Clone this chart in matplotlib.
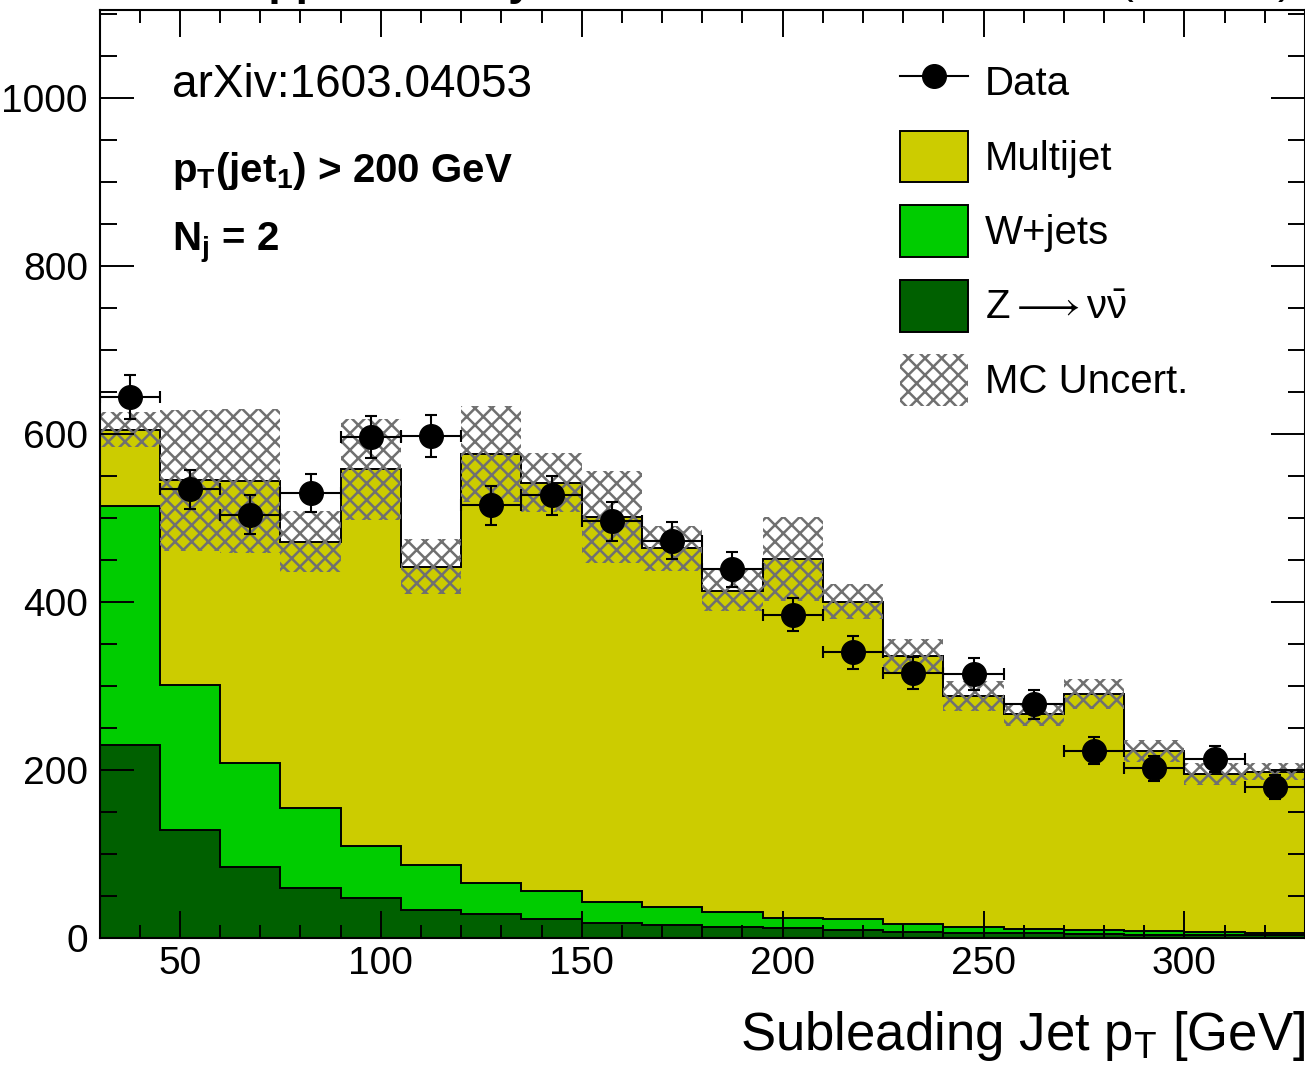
import numpy as np
import matplotlib
matplotlib.use("Agg")
import matplotlib.pyplot as plt
from matplotlib.lines import Line2D
from matplotlib.patches import Patch
from matplotlib.ticker import MultipleLocator

# Subleading jet pT binning [GeV]
bin_edges = np.arange(30, 331, 15)

# Stacked backgrounds (events per bin)
z_nunu = [230, 128, 84, 60, 47, 33, 28, 23, 18, 16,
          13.5, 11.5, 9.5, 7, 6.3, 5.5, 4.7, 4, 3.6, 3.2]
w_jets = [284, 173, 124, 95, 63, 54, 38, 33, 25, 21,
          17.1, 12.7, 13.1, 9.7, 7.2, 5.6, 5.2, 4.3, 3.9, 2.8]
multijet = [91, 244, 336, 317, 448, 355, 510, 486, 458, 427,
            383, 427, 378, 319, 275, 255, 281, 214, 188, 192]
mc_unc = [21, 84, 86, 36, 60, 33, 57, 35, 55, 27,
          24, 50, 21, 20, 18, 14, 18, 13, 13, 10]

# Observed data
data = [644, 534, 504, 530, 596, 598, 515, 527, 496, 473,
        439, 385, 340, 316, 314, 278, 223, 202, 213, 180]
data_err = [26, 23, 23, 23, 25, 25, 23, 23, 23, 22,
            21, 20, 19.5, 19, 19, 17.5, 16, 15, 15.5, 14]

C_MJ = "#cccc00"
C_W = "#00cc00"
C_Z = "#006000"
C_UNC = "#707070"

plt.rcParams["font.family"] = ["Liberation Sans", "DejaVu Sans"]
plt.rcParams["mathtext.fontset"] = "custom"
plt.rcParams["mathtext.rm"] = "Liberation Sans"
plt.rcParams["mathtext.it"] = "Liberation Sans:italic"
plt.rcParams["mathtext.bf"] = "Liberation Sans:bold"
plt.rcParams["hatch.linewidth"] = 1.8

fig = plt.figure(figsize=(13.05, 10.77), dpi=100)
ax = fig.add_axes([0.0763, 0.1291, 0.9237, 0.8617])

# Stack
z = np.array(z_nunu)
zw = z + np.array(w_jets)
total = zw + np.array(multijet)
ax.stairs(z, bin_edges, fill=True, color=C_Z)
ax.stairs(zw, bin_edges, baseline=z, fill=True, color=C_W)
ax.stairs(total, bin_edges, baseline=zw, fill=True, color=C_MJ)
for top in (z, zw, total):
    ax.stairs(top, bin_edges, color="k", lw=1.4)

# MC uncertainty band
unc = np.array(mc_unc)
ax.bar(bin_edges[:-1], 2 * unc, width=np.diff(bin_edges), bottom=total - unc,
       align="edge", fill=False, hatch="xx", edgecolor=C_UNC, lw=0)

# Data points
centers = 0.5 * (bin_edges[:-1] + bin_edges[1:])
ax.errorbar(centers, data, xerr=0.5 * np.diff(bin_edges), yerr=data_err,
            fmt="o", color="k", ms=17, elinewidth=1.5, capsize=4.5,
            capthick=1.5, zorder=5)

ax.set_xlim(30, 330)
ax.set_ylim(0, 1105)
ax.xaxis.set_major_locator(MultipleLocator(50))
ax.xaxis.set_minor_locator(MultipleLocator(10))
ax.yaxis.set_major_locator(MultipleLocator(200))
ax.yaxis.set_minor_locator(MultipleLocator(50))
ax.tick_params(which="both", direction="in", top=True, right=True,
               width=1.4, labelsize=28)
ax.tick_params(axis="x", which="major", length=19.5, pad=6)
ax.tick_params(axis="x", which="minor", length=9.7)
ax.tick_params(axis="y", which="major", length=24.5, pad=8.4)
ax.tick_params(axis="y", which="minor", length=12.2)
for sp in ax.spines.values():
    sp.set_linewidth(1.5)

ax.set_xlabel(r"Subleading Jet p$_{\mathrm{T}}$ [GeV]", fontsize=38, loc="right")
ax.xaxis.set_label_coords(1.0, -0.077)

# Annotations
ax.text(0.060, 0.906, "arXiv:1603.04053", transform=ax.transAxes,
        fontsize=33, va="baseline")
ax.text(0.060, 0.8147, r"$\mathbf{p_{T}(jet_{1})}$ > 200 GeV",
        transform=ax.transAxes, fontsize=29, fontweight="bold", va="baseline")
ax.text(0.060, 0.7414, r"$\mathbf{N_{j}}$ = 2", transform=ax.transAxes,
        fontsize=29, fontweight="bold", va="baseline")

# Title row, mostly cut off by the top of the canvas
fig.text(0.077, 1.0046, "CMS Supplementary", fontsize=32, fontweight="bold",
         va="baseline")
fig.text(0.989, 1.0046, r"2.3 fb$^{-1}$ (13 TeV)", fontsize=32, ha="right",
         va="baseline")

handles = [
    Line2D([], [], color="k", marker="o", ms=17, lw=1.5),
    Patch(facecolor=C_MJ, edgecolor="k", lw=1.4),
    Patch(facecolor=C_W, edgecolor="k", lw=1.4),
    Patch(facecolor=C_Z, edgecolor="k", lw=1.4),
    Patch(facecolor="none", edgecolor=C_UNC, hatch="xx", lw=0),
]
labels = ["Data", "Multijet", "W+jets",
          r"Z$\longrightarrow\mathrm{\nu\bar{\nu}}$", "MC Uncert."]
ax.legend(handles, labels, loc="upper left",
          bbox_to_anchor=(900 / 1305, 1 - 56 / 1077),
          bbox_transform=fig.transFigure, frameon=False, fontsize=29,
          numpoints=1, handlelength=1.69, handleheight=1.608,
          labelspacing=0.56, handletextpad=0.42, borderpad=0,
          borderaxespad=0)

fig.savefig("out.png", dpi=100)
